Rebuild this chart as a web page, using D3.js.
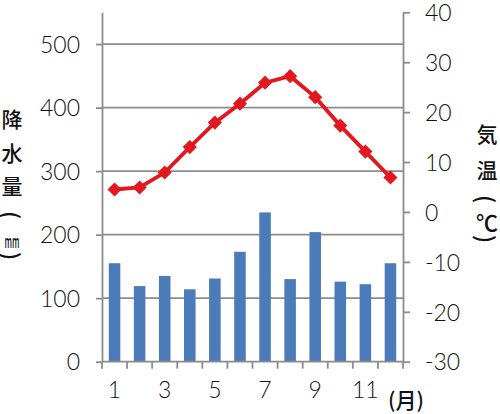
<!DOCTYPE html>
<html><head><meta charset="utf-8">
<script src="https://cdn.jsdelivr.net/npm/d3@7/dist/d3.min.js"></script>
<style>
html,body{margin:0;padding:0;background:#fff;}
svg{display:block;}
.num{font-family:Lato,"DejaVu Sans",sans-serif;font-weight:300;font-size:23px;fill:#111;}
.cjk{font-family:"Noto Sans CJK JP",sans-serif;font-weight:500;font-size:21px;fill:#111;}
</style></head>
<body>
<svg id="c" width="500" height="414"></svg>
<script>
const months = [1,2,3,4,5,6,7,8,9,10,11,12];
const precipitation = [155,119,135,114,131,173,235,130,204,126,122,155];
const temperature = [4.5,4.9,7.9,13.0,17.9,21.7,25.9,27.2,23.0,17.3,12.1,6.9];
const precipTicks = [0,100,200,300,400,500];
const tempTicks = [-30,-20,-10,0,10,20,30,40];
const monthLabels = [1,3,5,7,9,11];
const leftTitle = ["降","水","量","(","mm",")"];
const rightTitle = ["気","温","(","℃",")"];

const svg = d3.select("#c");
const L = 102, R = 403, T = 12.3, B = 361.7;
const axisColor = "#8c8c8c";

const x = d3.scaleBand().domain(months).range([L, R]);
const yL = d3.scaleLinear().domain([0, 550]).range([B, T]);
const yR = d3.scaleLinear().domain([-30, 40]).range([B, T]);

// gridlines
svg.append("g").selectAll("line").data(precipTicks.filter(d => d > 0)).join("line")
  .attr("x1", L).attr("x2", R).attr("y1", d => yL(d)).attr("y2", d => yL(d))
  .attr("stroke", axisColor).attr("stroke-width", 1.8);

// bars
const bw = x.bandwidth();
svg.append("g").selectAll("rect").data(months).join("rect")
  .attr("x", (m) => x(m) + bw * 0.27)
  .attr("width", bw * 0.46)
  .attr("y", (m, i) => yL(precipitation[i]))
  .attr("height", (m, i) => yL(0) - yL(precipitation[i]))
  .attr("fill", "#4b7bb8");

// left axis
const gL = svg.append("g").attr("transform", `translate(${L},0)`)
  .call(d3.axisLeft(yL).tickValues(precipTicks).tickFormat(d => String(d))
    .tickSize(6).tickSizeOuter(0).tickPadding(16));
gL.selectAll("path,line").attr("stroke", axisColor).attr("stroke-width", 1.8);
gL.selectAll("text").attr("class", "num").attr("dy", "0.36em");
gL.attr("font-size", null).attr("font-family", null);

// right axis
const gR = svg.append("g").attr("transform", `translate(${R},0)`)
  .call(d3.axisRight(yR).tickValues(tempTicks).tickFormat(d => String(d))
    .tickSize(7).tickSizeOuter(0).tickPadding(15));
gR.selectAll("path,line").attr("stroke", axisColor).attr("stroke-width", 1.8);
gR.selectAll("text").attr("class", "num").attr("dy", "0.36em");
gR.attr("font-size", null).attr("font-family", null);

// bottom axis
const boundaries = months.map(m => x(m)).concat([x(months[months.length - 1]) + bw]);
svg.append("line").attr("x1", L).attr("x2", R).attr("y1", yL(0)).attr("y2", yL(0))
  .attr("stroke", axisColor).attr("stroke-width", 1.8);
svg.append("g").selectAll("line").data(boundaries).join("line")
  .attr("x1", d => d).attr("x2", d => d).attr("y1", yL(0)).attr("y2", yL(0) + 7)
  .attr("stroke", axisColor).attr("stroke-width", 1.8);
svg.append("g").selectAll("text").data(monthLabels).join("text")
  .attr("class", "num").attr("text-anchor", "middle")
  .attr("x", d => x(d) + bw / 2).attr("y", 390).attr("dy", "0.36em")
  .text(d => d);
svg.append("text").attr("class", "cjk").attr("x", 388).attr("y", 400).attr("dy", "0.36em")
  .style("font-size", "21px").text("(月)");

// temperature line
const line = d3.line().x((d, i) => x(months[i]) + bw / 2).y(d => yR(d));
svg.append("path").datum(temperature).attr("d", line)
  .attr("fill", "none").attr("stroke", "#e3171e").attr("stroke-width", 3.8);
svg.append("g").selectAll("path").data(temperature).join("path")
  .attr("d", d3.symbol(d3.symbolSquare, 100))
  .attr("transform", (d, i) => `translate(${x(months[i]) + bw / 2},${yR(d)}) rotate(45)`)
  .attr("fill", "#e3171e");

// axis titles
function drawTitle(chars, cx, ys) {
  const g = svg.append("g");
  chars.forEach((c, i) => {
    const t = g.append("text").attr("class", "cjk").attr("text-anchor", "middle")
      .attr("dominant-baseline", "central").text(c);
    if (c === "(" || c === ")") {
      t.style("font-size", "23px").attr("transform", `translate(${cx},${ys[i]}) rotate(90)`);
    } else if (c === "mm") {
      t.style("font-size", "18px").attr("textLength", 15).attr("lengthAdjust", "spacingAndGlyphs")
        .attr("x", cx).attr("y", ys[i]);
    } else if (c === "℃") {
      t.style("font-size", "22px").attr("x", cx).attr("y", ys[i]);
    } else {
      t.attr("x", cx).attr("y", ys[i]);
    }
  });
}
drawTitle(leftTitle, 12, [118, 152, 185, 215, 240, 256]);
drawTitle(rightTitle, 487, [133, 169, 199, 221, 239]);
</script>
</body></html>
